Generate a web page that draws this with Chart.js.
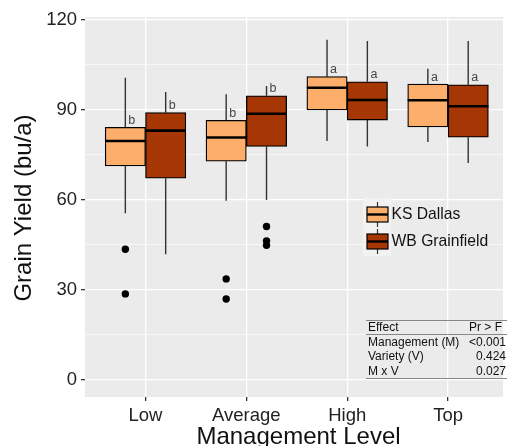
<!DOCTYPE html>
<html>
<head>
<meta charset="utf-8">
<script src="https://cdn.jsdelivr.net/npm/chart.js@4.4.1/dist/chart.umd.min.js"></script>
<style>
  html, body { margin: 0; padding: 0; background: #fff; overflow: hidden; }
  #wrap { width: 507px; height: 446px; }
</style>
</head>
<body>
<div id="wrap"><canvas id="box"></canvas></div>
<script>
const levels = ['Low', 'Average', 'High', 'Top']
const varieties = ['KS Dallas', 'WB Grainfield']
// five number summaries
const ksMin = [55.5, 59.7, 79.6, 79.3]
const ksQ1 = [71.3, 72.9, 90.0, 84.3]
const ksMed = [79.6, 80.8, 97.4, 93.2]
const ksQ3 = [84.2, 86.5, 101.1, 98.6]
const ksMax = [100.7, 95.2, 113.4, 103.7]
const wbMin = [41.8, 59.9, 77.8, 72.3]
const wbQ1 = [67.2, 77.8, 86.6, 80.9]
const wbMed = [83.1, 88.7, 93.3, 91.2]
const wbQ3 = [89.1, 94.7, 99.4, 98.4]
const wbMax = [96.0, 98.0, 113.0, 113.0]
const ksOutliers = [[43.5, 28.6], [33.6, 26.9], [], []]
const wbOutliers = [[], [51.1, 46.3, 44.8], [], []]
const ksLetters = ['b', 'b', 'a', 'a']
const wbLetters = ['b', 'b', 'a', 'a']
const yTicks = [0, 15, 30, 45, 60, 75, 90, 105, 120]
const effects = ['Management (M)', 'Variety (V)', 'M x V']
const pValues = ['<0.001', '0.424', '0.027']

const ksColor = '#fdae6b'
const wbColor = '#a63603'
const fontFam = '"Liberation Sans", Arial, sans-serif'
const dodge = 0.2

const stats = [
    { min: ksMin, q1: ksQ1, med: ksMed, q3: ksQ3, max: ksMax, letters: ksLetters },
    { min: wbMin, q1: wbQ1, med: wbMed, q3: wbQ3, max: wbMax, letters: wbLetters }
]

const outlierPts = []
levels.forEach((_, i) => {
    ksOutliers[i].forEach(v => outlierPts.push({ x: i - dodge, y: v }))
    wbOutliers[i].forEach(v => outlierPts.push({ x: i + dodge, y: v }))
})

const boxParts = {
    id: 'boxParts',
    beforeDraw(chart) {
        const { ctx, chartArea: a } = chart
        ctx.save()
        ctx.fillStyle = '#ebebeb'
        ctx.fillRect(a.left, a.top, a.right - a.left, a.bottom - a.top)
        ctx.restore()
    },
    beforeDatasetsDraw(chart) {
        const ctx = chart.ctx
        const y = chart.scales.y
        ctx.save()
        ctx.strokeStyle = '#333'
        ctx.lineWidth = 1.4
        stats.forEach((s, d) => {
            chart.getDatasetMeta(d).data.forEach((el, i) => {
                ctx.beginPath()
                ctx.moveTo(el.x, y.getPixelForValue(s.q3[i]))
                ctx.lineTo(el.x, y.getPixelForValue(s.max[i]))
                ctx.moveTo(el.x, y.getPixelForValue(s.q1[i]))
                ctx.lineTo(el.x, y.getPixelForValue(s.min[i]))
                ctx.stroke()
            })
        })
        ctx.restore()
    },
    afterDatasetsDraw(chart) {
        const ctx = chart.ctx
        const y = chart.scales.y
        ctx.save()
        stats.forEach((s, d) => {
            chart.getDatasetMeta(d).data.forEach((el, i) => {
                const ym = y.getPixelForValue(s.med[i])
                ctx.strokeStyle = '#000'
                ctx.lineWidth = 2.6
                ctx.beginPath()
                ctx.moveTo(el.x - el.width / 2, ym)
                ctx.lineTo(el.x + el.width / 2, ym)
                ctx.stroke()
                ctx.fillStyle = '#444'
                ctx.font = '12.5px ' + fontFam
                ctx.textAlign = 'center'
                ctx.textBaseline = 'middle'
                ctx.fillText(s.letters[i], el.x + 6.5, y.getPixelForValue(s.q3[i]) - 7)
            })
        })
        ctx.restore()
    },
    afterDraw(chart) {
        const ctx = chart.ctx
        const a = chart.chartArea
        ctx.save()
        // axis titles
        ctx.fillStyle = '#111'
        ctx.font = '24px ' + fontFam
        ctx.textAlign = 'center'
        ctx.textBaseline = 'alphabetic'
        ctx.fillText('Management Level', (a.left + 512) / 2, 444)
        ctx.save()
        ctx.translate(31, 208)
        ctx.rotate(-Math.PI / 2)
        ctx.fillText('Grain Yield (bu/a)', 0, 0)
        ctx.restore()

        // legend
        ctx.fillStyle = '#f2f2f2'
        ctx.fillRect(363, 198, 28, 58)
        const keys = [[ksColor, 214.5], [wbColor, 241.5]]
        keys.forEach(([col, mid], k) => {
            ctx.strokeStyle = '#333'
            ctx.lineWidth = 1.2
            ctx.beginPath()
            ctx.moveTo(377.5, mid - 12.5)
            ctx.lineTo(377.5, mid + 12.5)
            ctx.stroke()
            ctx.fillStyle = col
            ctx.fillRect(367, mid - 7.5, 21, 15)
            ctx.strokeStyle = '#000'
            ctx.strokeRect(367, mid - 7.5, 21, 15)
            ctx.lineWidth = 2.4
            ctx.beginPath()
            ctx.moveTo(367, mid)
            ctx.lineTo(388, mid)
            ctx.stroke()
            ctx.fillStyle = '#111'
            ctx.font = '15.7px ' + fontFam
            ctx.textAlign = 'left'
            ctx.textBaseline = 'middle'
            ctx.fillText(varieties[k], 391.5, mid + 0.5)
        })

        // anova table
        ctx.strokeStyle = '#888'
        ctx.lineWidth = 1
        ;[320.5, 334.5, 378.5].forEach(ly => {
            ctx.beginPath()
            ctx.moveTo(366, ly)
            ctx.lineTo(507, ly)
            ctx.stroke()
        })
        ctx.fillStyle = '#111'
        ctx.font = '12px ' + fontFam
        ctx.textBaseline = 'middle'
        ctx.textAlign = 'left'
        ctx.fillText('Effect', 368, 327.5)
        ctx.textAlign = 'right'
        ctx.fillText('Pr > F', 502, 327.5)
        effects.forEach((e, r) => {
            const ry = 342.8 + r * 14.3
            ctx.textAlign = 'left'
            ctx.fillText(e, 368, ry)
            ctx.textAlign = 'right'
            ctx.fillText(pValues[r], 506, ry)
        })
        ctx.restore()
    }
}

const tickFont = { family: fontFam, size: 18.5 }

const boxStyle = {
    borderColor: '#000',
    borderWidth: 1.3,
    borderSkipped: false,
    grouped: false,
    categoryPercentage: 1,
    barPercentage: 1
}

new Chart(document.getElementById('box'), {
    type: 'bar',
    data: {
        datasets: [
            {
                label: varieties[0],
                data: levels.map((_, i) => ({ x: i - dodge, y: [ksQ1[i], ksQ3[i]] })),
                backgroundColor: ksColor,
                ...boxStyle
            },
            {
                label: varieties[1],
                data: levels.map((_, i) => ({ x: i + dodge, y: [wbQ1[i], wbQ3[i]] })),
                backgroundColor: wbColor,
                ...boxStyle
            },
            {
                type: 'scatter',
                label: 'outliers',
                data: outlierPts,
                pointRadius: 3.7,
                pointBackgroundColor: '#000',
                pointBorderWidth: 0
            }
        ]
    },
    options: {
        responsive: true,
        maintainAspectRatio: false,
        animation: false,
        layout: { padding: { top: 17, left: 0, right: 0, bottom: 0 } },
        plugins: { legend: { display: false }, tooltip: { enabled: false } },
        scales: {
            x: {
                type: 'linear',
                min: -0.6,
                max: 3.545,
                offset: false,
                afterBuildTicks: s => { s.ticks = levels.map((_, i) => ({ value: i })) },
                afterFit: s => { s.height = 49 },
                ticks: {
                    callback: (v, i) => levels[i],
                    autoSkip: false,
                    maxRotation: 0,
                    font: tickFont,
                    color: '#222',
                    padding: 4
                },
                grid: { color: '#fff', lineWidth: 1.3, offset: false, tickColor: '#333', tickLength: 4 },
                border: { display: false }
            },
            y: {
                min: -5.8,
                max: 121,
                afterBuildTicks: s => { s.ticks = yTicks.map(v => ({ value: v })) },
                afterFit: s => { s.width = 85 },
                ticks: {
                    callback: v => (v % 30 === 0 ? v : ''),
                    autoSkip: false,
                    font: tickFont,
                    color: '#222',
                    padding: 4
                },
                grid: {
                    color: '#fff',
                    lineWidth: c => (c.tick && c.tick.value % 30 === 0 ? 1.3 : 0.6),
                    tickColor: c => (c.tick && c.tick.value % 30 === 0 ? '#333' : 'rgba(0,0,0,0)'),
                    tickLength: 4
                },
                border: { display: false }
            }
        }
    },
    plugins: [boxParts]
})
</script>
</body>
</html>
